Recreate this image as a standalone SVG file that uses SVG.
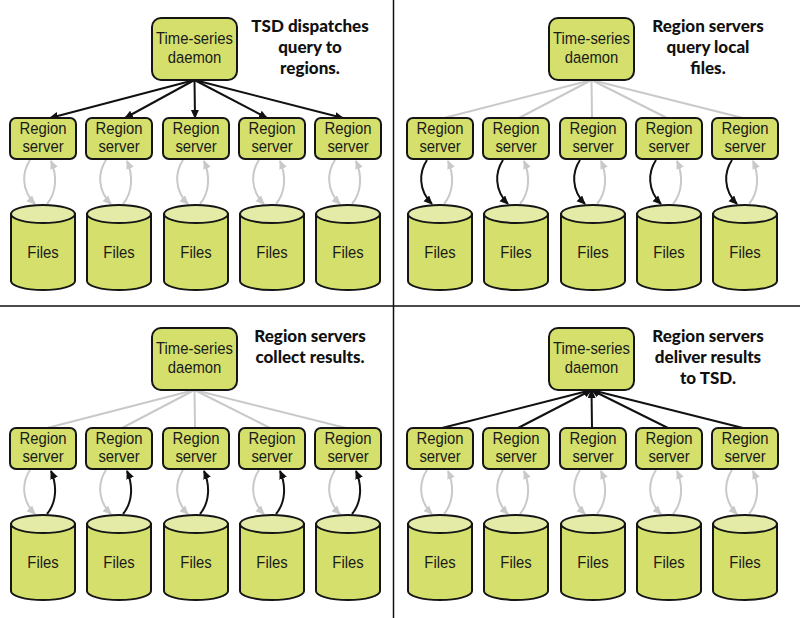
<svg xmlns="http://www.w3.org/2000/svg" xmlns:xlink="http://www.w3.org/1999/xlink" width="800" height="618" viewBox="0 0 800 618">
<style>
.box{fill:#d4e06b;stroke:#151515;stroke-width:2}
.top{fill:#e3eba6;stroke:#151515;stroke-width:2}
.lbl{font-family:"Liberation Sans",Arial,sans-serif;font-size:16.5px;fill:#1a1a1a;text-anchor:middle}
.ttl{font-family:Lato,"Open Sans",sans-serif;font-weight:900;font-size:17px;fill:#111;text-anchor:middle}
.blk{fill:none;stroke:#111;stroke-width:2}
.gry{fill:none;stroke:#c9c9c9;stroke-width:2}
.ba{marker-end:url(#ab)}
.ga{marker-end:url(#ag)}
.div{stroke:#111;stroke-width:1.5}
</style>
<defs>
<marker id="ab" markerUnits="userSpaceOnUse" markerWidth="10" markerHeight="9" refX="8" refY="4" orient="auto"><path d="M0,0 L9,4 L0,8 z" fill="#111"/></marker>
<marker id="ag" markerUnits="userSpaceOnUse" markerWidth="10" markerHeight="9" refX="8" refY="4" orient="auto"><path d="M0,0 L9,4 L0,8 z" fill="#c9c9c9"/></marker>
<g id="cyl"><path class="box" d="M-32,0 L-32,67 A32,9 0 0 0 32,67 L32,0 Z"/><ellipse class="top" cx="0" cy="0" rx="32" ry="9"/></g>
<rect id="srv" class="box" x="-33" y="0" width="66" height="41" rx="6"/>
<rect id="tsd" class="box" x="-42.5" y="0" width="85" height="62" rx="9"/>
<path id="cl" d="M-13,160 C-21,172 -22,190 -8,204"/>
<path id="cr" d="M4,204 C14,192 14,175 8,161"/>
</defs>

<g id="dividers">
<line class="div" x1="393.5" y1="0" x2="393.5" y2="618"/>
<line class="div" x1="0" y1="306" x2="800" y2="306"/>
</g>

<!-- ===== Panel 1 ===== -->
<g id="p1">
<text class="ttl" x="310" y="32">TSD dispatches</text>
<text class="ttl" x="310" y="53">query to</text>
<text class="ttl" x="310" y="74">regions.</text>
<g id="p1-connectors">
<line class="blk ba" x1="194.5" y1="80" x2="50" y2="118"/>
<line class="blk ba" x1="194.5" y1="80" x2="125" y2="118"/>
<line class="blk ba" x1="194.5" y1="80" x2="195" y2="118"/>
<line class="blk ba" x1="194.5" y1="80" x2="267" y2="118"/>
<line class="blk ba" x1="194.5" y1="80" x2="343" y2="118"/>
<g transform="translate(43,0)"><use href="#cl" class="gry ga"/><use href="#cr" class="gry ga"/></g>
<g transform="translate(119,0)"><use href="#cl" class="gry ga"/><use href="#cr" class="gry ga"/></g>
<g transform="translate(196,0)"><use href="#cl" class="gry ga"/><use href="#cr" class="gry ga"/></g>
<g transform="translate(272,0)"><use href="#cl" class="gry ga"/><use href="#cr" class="gry ga"/></g>
<g transform="translate(348,0)"><use href="#cl" class="gry ga"/><use href="#cr" class="gry ga"/></g>
</g>
<g id="p1-tsd" transform="translate(194.5,18)"><use href="#tsd"/><text class="lbl" transform="scale(0.9 1)" y="26">Time-series</text><text class="lbl" transform="scale(0.9 1)" y="45">daemon</text></g>
<g id="p1-rs1" transform="translate(43,118)"><use href="#srv"/><text class="lbl" transform="scale(0.9 1)" y="16">Region</text><text class="lbl" transform="scale(0.9 1)" y="34">server</text></g>
<g id="p1-rs2" transform="translate(119,118)"><use href="#srv"/><text class="lbl" transform="scale(0.9 1)" y="16">Region</text><text class="lbl" transform="scale(0.9 1)" y="34">server</text></g>
<g id="p1-rs3" transform="translate(196,118)"><use href="#srv"/><text class="lbl" transform="scale(0.9 1)" y="16">Region</text><text class="lbl" transform="scale(0.9 1)" y="34">server</text></g>
<g id="p1-rs4" transform="translate(272,118)"><use href="#srv"/><text class="lbl" transform="scale(0.9 1)" y="16">Region</text><text class="lbl" transform="scale(0.9 1)" y="34">server</text></g>
<g id="p1-rs5" transform="translate(348,118)"><use href="#srv"/><text class="lbl" transform="scale(0.9 1)" y="16">Region</text><text class="lbl" transform="scale(0.9 1)" y="34">server</text></g>
<g id="p1-f1" transform="translate(43,214)"><use href="#cyl"/><text class="lbl" transform="scale(0.9 1)" y="44">Files</text></g>
<g id="p1-f2" transform="translate(119,214)"><use href="#cyl"/><text class="lbl" transform="scale(0.9 1)" y="44">Files</text></g>
<g id="p1-f3" transform="translate(196,214)"><use href="#cyl"/><text class="lbl" transform="scale(0.9 1)" y="44">Files</text></g>
<g id="p1-f4" transform="translate(272,214)"><use href="#cyl"/><text class="lbl" transform="scale(0.9 1)" y="44">Files</text></g>
<g id="p1-f5" transform="translate(348,214)"><use href="#cyl"/><text class="lbl" transform="scale(0.9 1)" y="44">Files</text></g>
</g>

<!-- ===== Panel 2 ===== -->
<g id="p2" transform="translate(397,0)">
<text class="ttl" x="311" y="32">Region servers</text>
<text class="ttl" x="311" y="53">query local</text>
<text class="ttl" x="311" y="74">files.</text>
<g id="p2-connectors">
<line class="gry" x1="194.5" y1="80" x2="47" y2="118"/>
<line class="gry" x1="194.5" y1="80" x2="122" y2="118"/>
<line class="gry" x1="194.5" y1="80" x2="195" y2="118"/>
<line class="gry" x1="194.5" y1="80" x2="270" y2="118"/>
<line class="gry" x1="194.5" y1="80" x2="346" y2="118"/>
<g transform="translate(43,0)"><use href="#cl" class="blk ba"/><use href="#cr" class="gry ga"/></g>
<g transform="translate(119,0)"><use href="#cl" class="blk ba"/><use href="#cr" class="gry ga"/></g>
<g transform="translate(196,0)"><use href="#cl" class="blk ba"/><use href="#cr" class="gry ga"/></g>
<g transform="translate(272,0)"><use href="#cl" class="blk ba"/><use href="#cr" class="gry ga"/></g>
<g transform="translate(348,0)"><use href="#cl" class="blk ba"/><use href="#cr" class="gry ga"/></g>
</g>
<g id="p2-tsd" transform="translate(194.5,18)"><use href="#tsd"/><text class="lbl" transform="scale(0.9 1)" y="26">Time-series</text><text class="lbl" transform="scale(0.9 1)" y="45">daemon</text></g>
<g id="p2-rs1" transform="translate(43,118)"><use href="#srv"/><text class="lbl" transform="scale(0.9 1)" y="16">Region</text><text class="lbl" transform="scale(0.9 1)" y="34">server</text></g>
<g id="p2-rs2" transform="translate(119,118)"><use href="#srv"/><text class="lbl" transform="scale(0.9 1)" y="16">Region</text><text class="lbl" transform="scale(0.9 1)" y="34">server</text></g>
<g id="p2-rs3" transform="translate(196,118)"><use href="#srv"/><text class="lbl" transform="scale(0.9 1)" y="16">Region</text><text class="lbl" transform="scale(0.9 1)" y="34">server</text></g>
<g id="p2-rs4" transform="translate(272,118)"><use href="#srv"/><text class="lbl" transform="scale(0.9 1)" y="16">Region</text><text class="lbl" transform="scale(0.9 1)" y="34">server</text></g>
<g id="p2-rs5" transform="translate(348,118)"><use href="#srv"/><text class="lbl" transform="scale(0.9 1)" y="16">Region</text><text class="lbl" transform="scale(0.9 1)" y="34">server</text></g>
<g id="p2-f1" transform="translate(43,214)"><use href="#cyl"/><text class="lbl" transform="scale(0.9 1)" y="44">Files</text></g>
<g id="p2-f2" transform="translate(119,214)"><use href="#cyl"/><text class="lbl" transform="scale(0.9 1)" y="44">Files</text></g>
<g id="p2-f3" transform="translate(196,214)"><use href="#cyl"/><text class="lbl" transform="scale(0.9 1)" y="44">Files</text></g>
<g id="p2-f4" transform="translate(272,214)"><use href="#cyl"/><text class="lbl" transform="scale(0.9 1)" y="44">Files</text></g>
<g id="p2-f5" transform="translate(348,214)"><use href="#cyl"/><text class="lbl" transform="scale(0.9 1)" y="44">Files</text></g>
</g>

<!-- ===== Panel 3 ===== -->
<g id="p3" transform="translate(0,310)">
<text class="ttl" x="310" y="32">Region servers</text>
<text class="ttl" x="310" y="53">collect results.</text>
<g id="p3-connectors">
<line class="gry" x1="194.5" y1="80" x2="47" y2="118"/>
<line class="gry" x1="194.5" y1="80" x2="122" y2="118"/>
<line class="gry" x1="194.5" y1="80" x2="195" y2="118"/>
<line class="gry" x1="194.5" y1="80" x2="270" y2="118"/>
<line class="gry" x1="194.5" y1="80" x2="346" y2="118"/>
<g transform="translate(43,0)"><use href="#cl" class="gry ga"/><use href="#cr" class="blk ba"/></g>
<g transform="translate(119,0)"><use href="#cl" class="gry ga"/><use href="#cr" class="blk ba"/></g>
<g transform="translate(196,0)"><use href="#cl" class="gry ga"/><use href="#cr" class="blk ba"/></g>
<g transform="translate(272,0)"><use href="#cl" class="gry ga"/><use href="#cr" class="blk ba"/></g>
<g transform="translate(348,0)"><use href="#cl" class="gry ga"/><use href="#cr" class="blk ba"/></g>
</g>
<g id="p3-tsd" transform="translate(194.5,18)"><use href="#tsd"/><text class="lbl" transform="scale(0.9 1)" y="26">Time-series</text><text class="lbl" transform="scale(0.9 1)" y="45">daemon</text></g>
<g id="p3-rs1" transform="translate(43,118)"><use href="#srv"/><text class="lbl" transform="scale(0.9 1)" y="16">Region</text><text class="lbl" transform="scale(0.9 1)" y="34">server</text></g>
<g id="p3-rs2" transform="translate(119,118)"><use href="#srv"/><text class="lbl" transform="scale(0.9 1)" y="16">Region</text><text class="lbl" transform="scale(0.9 1)" y="34">server</text></g>
<g id="p3-rs3" transform="translate(196,118)"><use href="#srv"/><text class="lbl" transform="scale(0.9 1)" y="16">Region</text><text class="lbl" transform="scale(0.9 1)" y="34">server</text></g>
<g id="p3-rs4" transform="translate(272,118)"><use href="#srv"/><text class="lbl" transform="scale(0.9 1)" y="16">Region</text><text class="lbl" transform="scale(0.9 1)" y="34">server</text></g>
<g id="p3-rs5" transform="translate(348,118)"><use href="#srv"/><text class="lbl" transform="scale(0.9 1)" y="16">Region</text><text class="lbl" transform="scale(0.9 1)" y="34">server</text></g>
<g id="p3-f1" transform="translate(43,214)"><use href="#cyl"/><text class="lbl" transform="scale(0.9 1)" y="44">Files</text></g>
<g id="p3-f2" transform="translate(119,214)"><use href="#cyl"/><text class="lbl" transform="scale(0.9 1)" y="44">Files</text></g>
<g id="p3-f3" transform="translate(196,214)"><use href="#cyl"/><text class="lbl" transform="scale(0.9 1)" y="44">Files</text></g>
<g id="p3-f4" transform="translate(272,214)"><use href="#cyl"/><text class="lbl" transform="scale(0.9 1)" y="44">Files</text></g>
<g id="p3-f5" transform="translate(348,214)"><use href="#cyl"/><text class="lbl" transform="scale(0.9 1)" y="44">Files</text></g>
</g>

<!-- ===== Panel 4 ===== -->
<g id="p4" transform="translate(397,310)">
<text class="ttl" x="311" y="32">Region servers</text>
<text class="ttl" x="311" y="53">deliver results</text>
<text class="ttl" x="311" y="74">to TSD.</text>
<g id="p4-connectors">
<line class="blk ba" x1="45" y1="118" x2="194.5" y2="80"/>
<line class="blk ba" x1="121" y1="118" x2="194.5" y2="80"/>
<line class="blk ba" x1="195" y1="118" x2="194.5" y2="80"/>
<line class="blk ba" x1="271" y1="118" x2="194.5" y2="80"/>
<line class="blk ba" x1="346" y1="118" x2="194.5" y2="80"/>
<g transform="translate(43,0)"><use href="#cl" class="gry ga"/><use href="#cr" class="gry ga"/></g>
<g transform="translate(119,0)"><use href="#cl" class="gry ga"/><use href="#cr" class="gry ga"/></g>
<g transform="translate(196,0)"><use href="#cl" class="gry ga"/><use href="#cr" class="gry ga"/></g>
<g transform="translate(272,0)"><use href="#cl" class="gry ga"/><use href="#cr" class="gry ga"/></g>
<g transform="translate(348,0)"><use href="#cl" class="gry ga"/><use href="#cr" class="gry ga"/></g>
</g>
<g id="p4-tsd" transform="translate(194.5,18)"><use href="#tsd"/><text class="lbl" transform="scale(0.9 1)" y="26">Time-series</text><text class="lbl" transform="scale(0.9 1)" y="45">daemon</text></g>
<g id="p4-rs1" transform="translate(43,118)"><use href="#srv"/><text class="lbl" transform="scale(0.9 1)" y="16">Region</text><text class="lbl" transform="scale(0.9 1)" y="34">server</text></g>
<g id="p4-rs2" transform="translate(119,118)"><use href="#srv"/><text class="lbl" transform="scale(0.9 1)" y="16">Region</text><text class="lbl" transform="scale(0.9 1)" y="34">server</text></g>
<g id="p4-rs3" transform="translate(196,118)"><use href="#srv"/><text class="lbl" transform="scale(0.9 1)" y="16">Region</text><text class="lbl" transform="scale(0.9 1)" y="34">server</text></g>
<g id="p4-rs4" transform="translate(272,118)"><use href="#srv"/><text class="lbl" transform="scale(0.9 1)" y="16">Region</text><text class="lbl" transform="scale(0.9 1)" y="34">server</text></g>
<g id="p4-rs5" transform="translate(348,118)"><use href="#srv"/><text class="lbl" transform="scale(0.9 1)" y="16">Region</text><text class="lbl" transform="scale(0.9 1)" y="34">server</text></g>
<g id="p4-f1" transform="translate(43,214)"><use href="#cyl"/><text class="lbl" transform="scale(0.9 1)" y="44">Files</text></g>
<g id="p4-f2" transform="translate(119,214)"><use href="#cyl"/><text class="lbl" transform="scale(0.9 1)" y="44">Files</text></g>
<g id="p4-f3" transform="translate(196,214)"><use href="#cyl"/><text class="lbl" transform="scale(0.9 1)" y="44">Files</text></g>
<g id="p4-f4" transform="translate(272,214)"><use href="#cyl"/><text class="lbl" transform="scale(0.9 1)" y="44">Files</text></g>
<g id="p4-f5" transform="translate(348,214)"><use href="#cyl"/><text class="lbl" transform="scale(0.9 1)" y="44">Files</text></g>
</g>
</svg>
